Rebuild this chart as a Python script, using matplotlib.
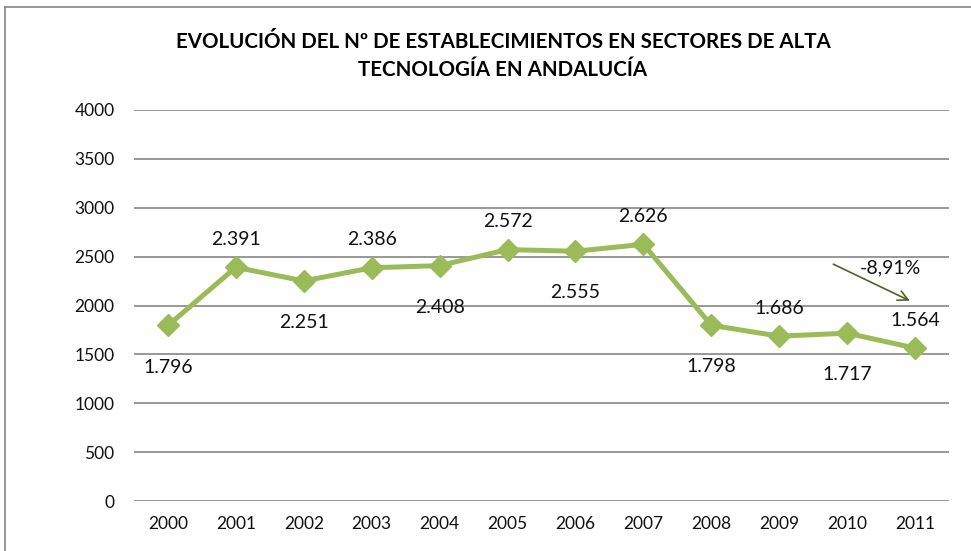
import matplotlib.pyplot as plt
from matplotlib.lines import Line2D

years = ["2000", "2001", "2002", "2003", "2004", "2005", "2006", "2007", "2008", "2009", "2010", "2011"]
values = [1796, 2391, 2251, 2386, 2408, 2572, 2555, 2626, 1798, 1686, 1717, 1564]
labels = ["1.796", "2.391", "2.251", "2.386", "2.408", "2.572", "2.555", "2.626", "1.798", "1.686", "1.717", "1.564"]
label_side = [-1, 1, -1, 1, -1, 1, -1, 1, -1, 1, -1, 1]
change_text = "-8,91%"

plt.rcParams['font.family'] = ['Lato', 'DejaVu Sans']

fig = plt.figure(figsize=(9.71, 5.51), dpi=100)
ax = fig.add_axes([134 / 971, 1 - 501 / 551, 815 / 971, 391 / 551])

x = list(range(len(years)))
ax.plot(x, values, color="#9BBB59", linewidth=3.6, marker="D", markersize=11,
        markerfacecolor="#9BBB59", markeredgecolor="#9BBB59", zorder=3)

for i, (v, lab, s) in enumerate(zip(values, labels, label_side)):
    off = 20 if s > 0 else -30
    ax.annotate(lab, (i, v), xytext=(0, off), textcoords="offset points",
                ha="center", va="center", fontsize=14, color="#111111")

ax.annotate("", xy=(10.96, 2036), xytext=(9.76, 2435),
            arrowprops=dict(arrowstyle="->", color="#4F6228", lw=1.2, mutation_scale=18))
ax.text(10.63, 2384, change_text, ha="center", va="center", fontsize=14, color="#111111")

ax.set_xlim(-0.5, 11.5)
ax.set_ylim(0, 4000)
ax.set_yticks(range(0, 4001, 500))
ax.set_xticks(x)
ax.set_xticklabels(years)
ax.tick_params(length=0, labelsize=12.5, colors="#111111")
ax.tick_params(axis="y", pad=14)
ax.tick_params(axis="x", pad=11)
ax.grid(axis="y", color="#868686", linewidth=1.2)
ax.set_axisbelow(True)
for sp in ax.spines.values():
    sp.set_visible(False)

fig.text(503 / 971, 1 - 42 / 551, "EVOLUCIÓN DEL Nº DE ESTABLECIMIENTOS EN SECTORES DE ALTA",
         ha="center", va="center", fontsize=14.8, fontweight="bold")
fig.text(503 / 971, 1 - 70 / 551, "TECNOLOGÍA EN ANDALUCÍA",
         ha="center", va="center", fontsize=14.8, fontweight="bold")

# chart frame
fig.add_artist(Line2D([5 / 971, 5 / 971], [0, 1 - 7 / 551], color="#868686", lw=1.2))
fig.add_artist(Line2D([5 / 971, 1], [1 - 7 / 551, 1 - 7 / 551], color="#868686", lw=1.2))

fig.savefig("out.png", dpi=100)
